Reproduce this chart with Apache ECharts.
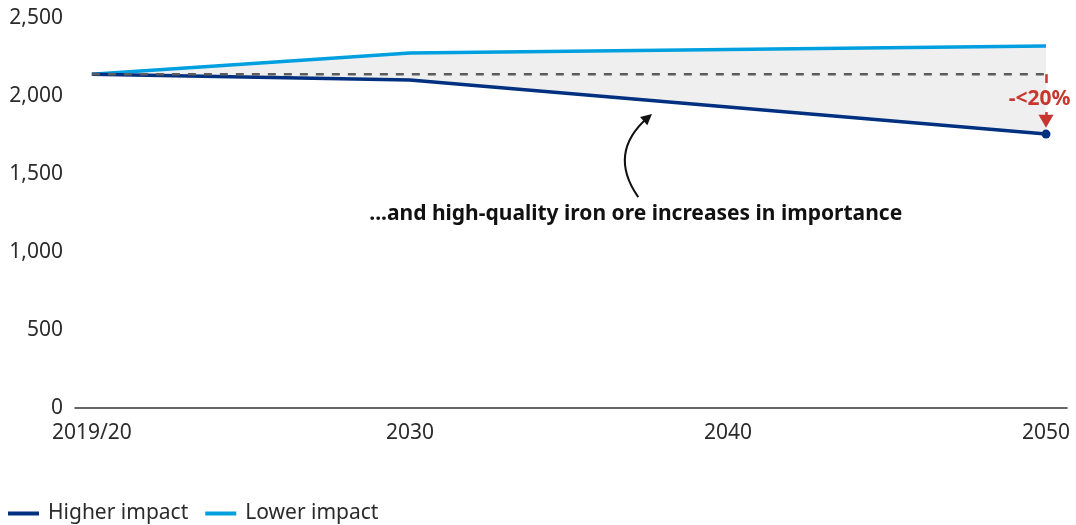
<!DOCTYPE html>
<html>
<head>
<meta charset="utf-8">
<script src="https://cdn.jsdelivr.net/npm/echarts@6/dist/echarts.min.js"></script>
<style>
  html, body { margin: 0; padding: 0; background: #fff; }
  #chart { width: 1076px; height: 525px; }
</style>
</head>
<body>
<div id="chart"></div>
<script>
// Iron ore demand scenarios (million tonnes)
const years = [2020, 2030, 2050];
const higherImpact = [2140, 2103, 1756];
const lowerImpact = [2140, 2276, 2320];
const baseline = 2140;
const xTickValues = [2020, 2030, 2040, 2050];
const xTickLabels = ['2019/20', '2030', '2040', '2050'];
const yTicks = [0, 500, 1000, 1500, 2000, 2500];

const NAVY = '#00307f';
const SKY = '#009fdf';
const RED = '#c8372f';
const INK = '#2b2b2b';
const FONT = '"Noto Sans", "Open Sans", sans-serif';

const pairs = arr => years.map((y, i) => [y, arr[i]]);
const higherData = years.map((y, i) => i === years.length - 1
  ? { value: [y, higherImpact[i]], symbol: 'circle', symbolSize: 9 }
  : { value: [y, higherImpact[i]] });

const chart = echarts.init(document.getElementById('chart'), null, { renderer: 'canvas' });

chart.setOption({
  animation: false,
  textStyle: { fontFamily: FONT },
  grid: { left: 75, right: 9, top: 18, bottom: 117, containLabel: false },
  xAxis: {
    type: 'value',
    min: 2019.47,
    max: 2050.66,
    z: 5,
    splitLine: { show: false },
    axisLine: { show: true, lineStyle: { color: '#333', width: 1.5 } },
    axisTick: { show: false },
    axisLabel: {
      customValues: xTickValues,
      formatter: v => xTickLabels[xTickValues.indexOf(Math.round(v))] || '',
      color: INK,
      fontSize: 21,
      fontFamily: FONT,
      margin: 15
    }
  },
  yAxis: {
    type: 'value',
    min: yTicks[0],
    max: yTicks[yTicks.length - 1],
    interval: 500,
    splitLine: { show: false },
    axisLine: { show: false },
    axisTick: { show: false },
    axisLabel: {
      formatter: v => v.toLocaleString('en-US'),
      color: INK,
      fontSize: 21,
      fontFamily: FONT,
      margin: 12,
      padding: [3, 0, 0, 0]
    }
  },
  legend: {
    left: 8,
    bottom: 1,
    padding: 0,
    itemWidth: 31,
    itemHeight: 4,
    itemGap: 17,
    icon: 'rect',
    textStyle: { fontSize: 21, color: INK, fontFamily: FONT, padding: [0, 0, 0, 4] },
    data: ['Higher impact', 'Lower impact']
  },
  series: [
    {
      // shaded spread between the two scenarios
      name: 'spread',
      type: 'custom',
      coordinateSystem: 'cartesian2d',
      data: [[years[0], baseline]],
      silent: true,
      z: 1,
      renderItem: (params, api) => {
        const top = years.map((y, i) => api.coord([y, lowerImpact[i]]));
        const bottom = years.map((y, i) => api.coord([y, higherImpact[i]])).reverse();
        return {
          type: 'polygon',
          shape: { points: top.concat(bottom) },
          style: { fill: '#efefef' }
        };
      }
    },
    {
      name: 'Lower impact',
      type: 'line',
      data: pairs(lowerImpact),
      color: SKY,
      symbol: 'none',
      lineStyle: { color: SKY, width: 3.5 },
      z: 3
    },
    {
      name: 'Higher impact',
      type: 'line',
      data: higherData,
      color: NAVY,
      symbol: 'none',
      showSymbol: true,
      itemStyle: { color: NAVY },
      lineStyle: { color: NAVY, width: 3.5 },
      z: 3,
      markPoint: {
        silent: true,
        symbol: 'circle',
        symbolSize: 1,
        itemStyle: { color: 'transparent' },
        data: [
          {
            coord: [2037.1, 1244],
            label: {
              show: true, position: 'inside',
              formatter: '...and high-quality iron ore increases in importance',
              fontSize: 21, fontWeight: 'bold', color: '#111', fontFamily: FONT
            }
          }
        ]
      }
    },
    {
      // curved pointer from the note to the higher-impact line
      name: 'pointer',
      type: 'lines',
      coordinateSystem: 'cartesian2d',
      silent: true,
      z: 4,
      symbol: ['none', 'triangle'],
      symbolSize: 11,
      lineStyle: { color: '#111', width: 2, opacity: 1, curveness: 0.45 },
      data: [{ coords: [[2037.18, 1352], [2037.48, 1862]] }]
    },
    {
      name: 'Current level',
      type: 'line',
      data: [[years[0], baseline], [years[years.length - 1], baseline]],
      symbol: 'none',
      lineStyle: { color: '#5c5c5c', width: 2.5, type: [8, 8] },
      z: 4,
      markLine: {
        silent: true,
        label: { show: false },
        lineStyle: { color: RED, width: 2.5, type: 'solid' },
        data: [
          [
            { coord: [2050, baseline], symbol: 'none' },
            { coord: [2050, 2083], symbol: 'none' }
          ],
          [
            { coord: [2050, 1897], symbol: 'none' },
            { coord: [2050, 1838], symbol: 'triangle', symbolSize: [15, 13] }
          ]
        ]
      },
      markPoint: {
        silent: true,
        symbol: 'circle',
        symbolSize: 1,
        itemStyle: { color: 'transparent' },
        data: [
          {
            coord: [2049.8, 1981],
            label: {
              show: true, position: 'inside',
              formatter: '-<20%',
              fontSize: 21, fontWeight: 'bold', color: RED, fontFamily: FONT
            }
          }
        ]
      }
    }
  ]
});
</script>
</body>
</html>
